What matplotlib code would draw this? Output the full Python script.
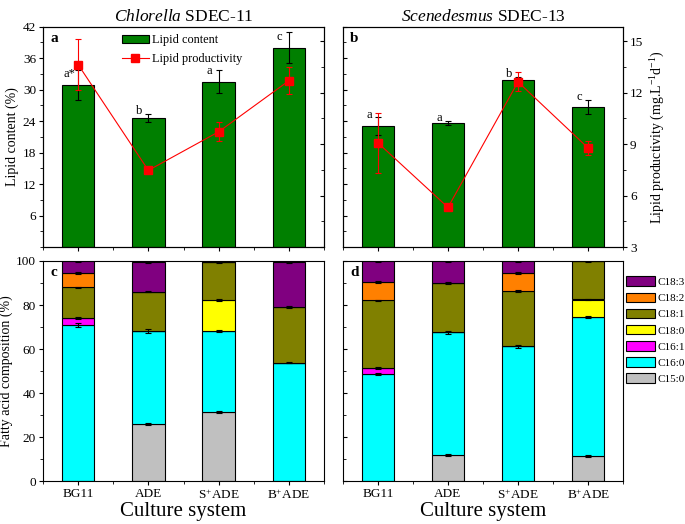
import numpy as np
import matplotlib
matplotlib.use("Agg")
import matplotlib.pyplot as plt
from matplotlib.ticker import MultipleLocator
from matplotlib.patches import Patch
from matplotlib.lines import Line2D

plt.rcParams['font.family'] = ['Liberation Serif', 'DejaVu Serif']
plt.rcParams['mathtext.fontset'] = 'custom'
plt.rcParams['mathtext.rm'] = 'Liberation Serif'
plt.rcParams['mathtext.it'] = 'Liberation Serif:italic'
plt.rcParams['mathtext.bf'] = 'Liberation Serif:bold'

# Data
cultures = ["BG11", "ADE", "S$^{+}$ADE", "B$^{+}$ADE"]

# lipid content (%) and productivity (mg/L/d)
content_chl = [30.9, 24.6, 31.5, 38.0]
content_chl_err = [2.9, 0.7, 2.2, 2.9]
prod_chl = [13.64, 7.47, 9.72, 12.7]
prod_chl_err = [1.47, 0.1, 0.55, 0.8]
letters_chl = ["a*", "b", "a", "c"]

content_sce = [23.1, 23.6, 31.8, 26.7]
content_sce_err = [1.7, 0.4, 0.6, 1.4]
prod_sce = [9.07, 5.31, 12.63, 8.78]
prod_sce_err = [1.75, 0.1, 0.55, 0.4]
letters_sce = ["a", "a", "b", "c"]

# fatty acid composition (%), bottom to top
acids = ["C15:0", "C16:0", "C16:1", "C18:0", "C18:1", "C18:2", "C18:3"]
acid_colors = ["#c0c0c0", "#00ffff", "#ff00ff", "#ffff00", "#808000", "#ff8000", "#800080"]

fa_chl = {
    "C15:0": [0, 25.8, 31.2, 0],
    "C16:0": [70.8, 42.4, 37.0, 53.8],
    "C16:1": [3.3, 0, 0, 0],
    "C18:0": [0, 0, 14.2, 0],
    "C18:1": [13.9, 17.9, 17.3, 25.3],
    "C18:2": [6.4, 0, 0, 0],
    "C18:3": [5.4, 13.6, 0, 20.3],
}
fa_sce = {
    "C15:0": [0, 11.7, 0, 11.2],
    "C16:0": [48.6, 55.9, 61.2, 63.4],
    "C16:1": [2.9, 0, 0, 0],
    "C18:0": [0, 0, 0, 7.9],
    "C18:1": [30.6, 22.4, 25.1, 17.5],
    "C18:2": [8.3, 0, 8.1, 0],
    "C18:3": [9.6, 10.0, 5.6, 0],
}
fa_err = 0.4
fa_err_chl_c160 = [1.0, 0.8, 0.3, 0.2]
fa_err_sce_c160 = [0.6, 0.6, 0.6, 0.5]

x = np.arange(1, 5)
fig = plt.figure(figsize=(6.85, 5.24), dpi=100)


def ax_rect(l, r, t, b):
    return [l / 685, 1 - b / 524, (r - l) / 685, (b - t) / 524]


ax_a = fig.add_axes(ax_rect(43, 324, 26.7, 247))
ax_b = fig.add_axes(ax_rect(343, 623, 26.7, 247))
ax_c = fig.add_axes(ax_rect(43, 324, 261, 481))
ax_d = fig.add_axes(ax_rect(343, 623, 261, 481))

tick_fs = 9.5
lab_fs = 10
green = "#007f00"


def style_y(ax, show, side):
    if show:
        ax.tick_params(axis="y", which="both", direction="out", labelsize=tick_fs, length=3, pad=2)
    else:
        kw = {"labelleft": False} if side == "left" else {"labelright": False}
        ax.tick_params(axis="y", which="both", direction="in", length=3, **kw)
    ax.tick_params(axis="y", which="minor", length=2)


def top_panel(ax, content, content_err, prod, prod_err, letters, show_left, tag):
    ax.bar(x, content, width=0.46, color=green, edgecolor="black", linewidth=0.8,
           yerr=content_err, error_kw=dict(ecolor="black", elinewidth=0.8, capsize=2.5, capthick=0.8),
           zorder=2)
    ax.set_xlim(0.5, 4.5)
    ax.set_ylim(0, 42)
    ax.set_yticks([6, 12, 18, 24, 30, 36, 42])
    ax.yaxis.set_minor_locator(MultipleLocator(3))
    ax.set_xticks(x)
    ax.set_xticklabels([])
    ax.xaxis.set_minor_locator(MultipleLocator(0.5))
    ax.tick_params(axis="x", which="both", direction="out", length=3)
    ax.tick_params(axis="x", which="minor", length=2)
    for i, s in enumerate(letters):
        ly = min(content[i] + content_err[i], content[i] + 1.5) - 0.6
        ax.text(x[i] - 0.13, ly, s, ha="center", va="bottom", fontsize=9)
    ax2 = ax.twinx()
    ax2.errorbar(x, prod, yerr=prod_err, color="#ff0000", marker="s", markersize=6,
                 linewidth=0.8, elinewidth=0.8, capsize=2.5, capthick=0.8, zorder=3)
    ax2.set_ylim(3, 15.85)
    ax2.set_yticks([3, 6, 9, 12, 15])
    ax2.yaxis.set_minor_locator(MultipleLocator(1.5))
    style_y(ax, show_left, "left")
    style_y(ax2, not show_left, "right")
    if show_left:
        ax.set_ylabel("Lipid content (%)", fontsize=lab_fs, labelpad=3)
    else:
        ax2.set_ylabel("Lipid productivity (mg.L$^{-1}$d$^{-1}$)", fontsize=lab_fs, labelpad=4)
    ax.text(0.025, 0.975, tag, transform=ax.transAxes, fontsize=11, fontweight="bold",
            ha="left", va="top")
    return ax2


ax_a2 = top_panel(ax_a, content_chl, content_chl_err, prod_chl, prod_chl_err, letters_chl,
                  True, "a")
ax_b2 = top_panel(ax_b, content_sce, content_sce_err, prod_sce, prod_sce_err, letters_sce,
                  False, "b")

leg_a = [Patch(facecolor=green, edgecolor="black", linewidth=0.8, label="Lipid content"),
         Line2D([], [], color="#ff0000", marker="s", markersize=6, linewidth=0.8,
                label="Lipid productivity")]
ax_a2.legend(handles=leg_a, loc="upper left", bbox_to_anchor=(0.28, 0.965), frameon=False,
             fontsize=8.8, handlelength=2.2, handleheight=0.6, handletextpad=0.3,
             borderaxespad=0, borderpad=0, labelspacing=0.55)

ax_a.set_title("$\\it{Chlorella}$ SDEC-11", fontsize=12.5, pad=4)
ax_b.set_title("$\\it{Scenedesmus}$ SDEC-13", fontsize=12.5, pad=4)


def bottom_panel(ax, fa, c160_err, show_left, tag):
    bottom = np.zeros(4)
    for name, col in zip(acids, acid_colors):
        vals = np.array(fa[name], dtype=float)
        ax.bar(x, vals, bottom=bottom, width=0.46, color=col, edgecolor="black",
               linewidth=0.8, zorder=2)
        top = bottom + vals
        err = np.array(c160_err) if name == "C16:0" else np.full(4, fa_err)
        mask = vals > 0
        ax.errorbar(x[mask], top[mask], yerr=err[mask], fmt="none", ecolor="black",
                    elinewidth=0.8, capsize=2.5, capthick=0.8, zorder=3)
        bottom = top
    ax.set_xlim(0.5, 4.5)
    ax.set_ylim(0, 100)
    ax.yaxis.set_major_locator(MultipleLocator(20))
    ax.yaxis.set_minor_locator(MultipleLocator(10))
    ax.set_xticks(x)
    ax.set_xticklabels(cultures, fontsize=tick_fs)
    ax.xaxis.set_minor_locator(MultipleLocator(0.5))
    ax.tick_params(axis="x", which="both", direction="out", length=3, pad=2)
    ax.tick_params(axis="x", which="minor", length=2)
    style_y(ax, show_left, "left")
    if show_left:
        ax.set_ylabel("Fatty acid composition (%)", fontsize=lab_fs, labelpad=2)
    ax.set_xlabel("Culture system", fontsize=15, labelpad=0)
    ax.text(0.025, 0.975, tag, transform=ax.transAxes, fontsize=11, fontweight="bold",
            ha="left", va="top")


bottom_panel(ax_c, fa_chl, fa_err_chl_c160, True, "c")
bottom_panel(ax_d, fa_sce, fa_err_sce_c160, False, "d")

handles = [Patch(facecolor=c, edgecolor="black", linewidth=0.8, label=n)
           for n, c in zip(acids, acid_colors)][::-1]
ax_d.legend(handles=handles, loc="upper left", bbox_to_anchor=(1.012, 0.93), frameon=False,
            fontsize=8, handlelength=2.6, handleheight=0.95, handletextpad=0.2,
            labelspacing=0.5, borderaxespad=0, borderpad=0)

fig.savefig("out.png", dpi=100)
